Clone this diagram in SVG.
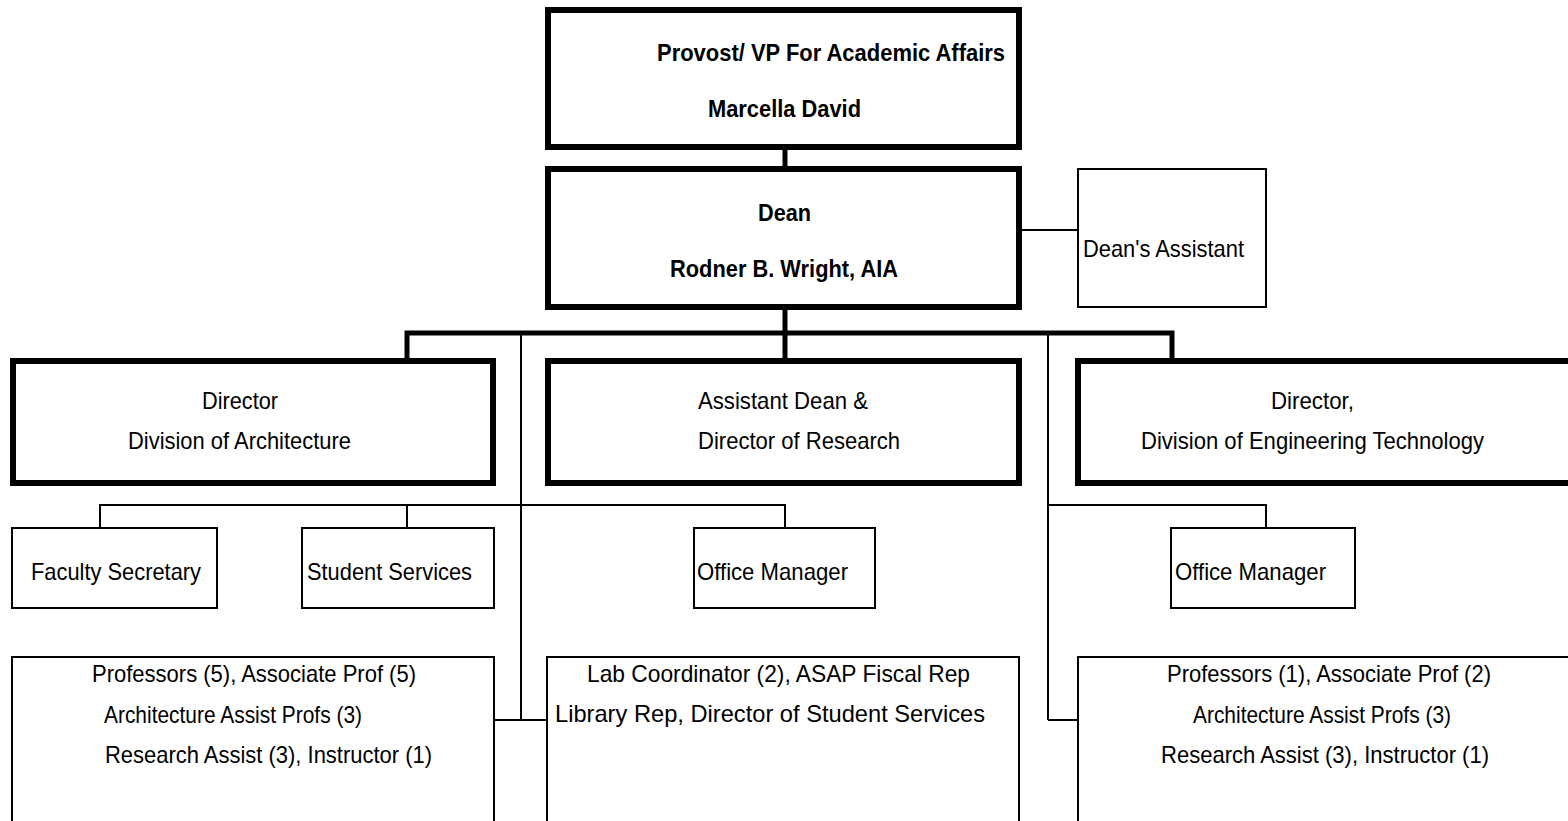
<svg xmlns="http://www.w3.org/2000/svg" width="1568" height="821" viewBox="0 0 1568 821">
<style>
text{font-family:"Liberation Sans",Arial,sans-serif;font-size:24px;fill:#000}
.b{font-weight:bold}
.thick{fill:#fff;stroke:#000;stroke-width:6}
.thin{fill:#fff;stroke:#000;stroke-width:2}
.c1{fill:none;stroke:#000;stroke-width:5}
.c2{fill:none;stroke:#000;stroke-width:2}
</style>
<rect width="1568" height="821" fill="#fff"/>
<g id="connectors">
<line class="c1" x1="785" y1="150" x2="785" y2="169"/>
<line class="c2" x1="1022" y1="230" x2="1078" y2="230"/>
<line class="c1" x1="785" y1="310" x2="785" y2="361"/>
<polyline class="c1" points="407,361 407,333 1172,333 1172,361"/>
<line class="c2" x1="521" y1="333" x2="521" y2="720"/>
<line class="c2" x1="1048" y1="333" x2="1048" y2="720"/>
<polyline class="c2" points="100,528 100,505 785,505 785,528"/>
<line class="c2" x1="407" y1="505" x2="407" y2="528"/>
<polyline class="c2" points="1048,505 1266,505 1266,528"/>
<line class="c2" x1="494" y1="720" x2="547" y2="720"/>
<line class="c2" x1="1048" y1="720" x2="1078" y2="720"/>
</g>
<g id="provost">
<rect class="thick" x="548" y="10" width="471" height="137"/>
<text class="b" x="657" y="61" textLength="348" lengthAdjust="spacingAndGlyphs">Provost/ VP For Academic Affairs</text>
<text class="b" x="708" y="117" textLength="153" lengthAdjust="spacingAndGlyphs">Marcella David</text>
</g>
<g id="dean">
<rect class="thick" x="548" y="169" width="471" height="138"/>
<text class="b" x="758" y="221" textLength="53" lengthAdjust="spacingAndGlyphs">Dean</text>
<text class="b" x="670" y="277" textLength="228" lengthAdjust="spacingAndGlyphs">Rodner B. Wright, AIA</text>
</g>
<g id="deans-assistant">
<rect class="thin" x="1078" y="169" width="188" height="138"/>
<text x="1083" y="257" textLength="161" lengthAdjust="spacingAndGlyphs">Dean's Assistant</text>
</g>
<g id="dir-arch">
<rect class="thick" x="13" y="361" width="480" height="122"/>
<text x="202" y="409" textLength="76" lengthAdjust="spacingAndGlyphs">Director</text>
<text x="128" y="449" textLength="223" lengthAdjust="spacingAndGlyphs">Division of Architecture</text>
</g>
<g id="asst-dean">
<rect class="thick" x="548" y="361" width="471" height="122"/>
<text x="698" y="409" textLength="170" lengthAdjust="spacingAndGlyphs">Assistant Dean &amp;</text>
<text x="698" y="449" textLength="202" lengthAdjust="spacingAndGlyphs">Director of Research</text>
</g>
<g id="dir-eng">
<rect class="thick" x="1078" y="361" width="496" height="122"/>
<text x="1271" y="409" textLength="83" lengthAdjust="spacingAndGlyphs">Director,</text>
<text x="1141" y="449" textLength="343" lengthAdjust="spacingAndGlyphs">Division of Engineering Technology</text>
</g>
<g id="faculty-secretary">
<rect class="thin" x="12" y="528" width="205" height="80"/>
<text x="31" y="580" textLength="170" lengthAdjust="spacingAndGlyphs">Faculty Secretary</text>
</g>
<g id="student-services">
<rect class="thin" x="302" y="528" width="192" height="80"/>
<text x="307" y="580" textLength="165" lengthAdjust="spacingAndGlyphs">Student Services</text>
</g>
<g id="office-manager-1">
<rect class="thin" x="694" y="528" width="181" height="80"/>
<text x="697" y="580" textLength="151" lengthAdjust="spacingAndGlyphs">Office Manager</text>
</g>
<g id="office-manager-2">
<rect class="thin" x="1171" y="528" width="184" height="80"/>
<text x="1175" y="580" textLength="151" lengthAdjust="spacingAndGlyphs">Office Manager</text>
</g>
<g id="arch-staff">
<rect class="thin" x="12" y="657" width="482" height="170"/>
<text x="92" y="682" textLength="324" lengthAdjust="spacingAndGlyphs">Professors (5), Associate Prof (5)</text>
<text x="104" y="723" textLength="258" lengthAdjust="spacingAndGlyphs">Architecture Assist Profs (3)</text>
<text x="105" y="763" textLength="327" lengthAdjust="spacingAndGlyphs">Research Assist (3), Instructor (1)</text>
</g>
<g id="research-staff">
<rect class="thin" x="547" y="657" width="472" height="170"/>
<text x="587" y="682" textLength="383" lengthAdjust="spacingAndGlyphs">Lab Coordinator (2), ASAP Fiscal Rep</text>
<text x="555" y="722" textLength="430" lengthAdjust="spacingAndGlyphs">Library Rep, Director of Student Services</text>
</g>
<g id="eng-staff">
<rect class="thin" x="1078" y="657" width="496" height="170"/>
<text x="1167" y="682" textLength="324" lengthAdjust="spacingAndGlyphs">Professors (1), Associate Prof (2)</text>
<text x="1193" y="723" textLength="258" lengthAdjust="spacingAndGlyphs">Architecture Assist Profs (3)</text>
<text x="1161" y="763" textLength="328" lengthAdjust="spacingAndGlyphs">Research Assist (3), Instructor (1)</text>
</g>
</svg>
